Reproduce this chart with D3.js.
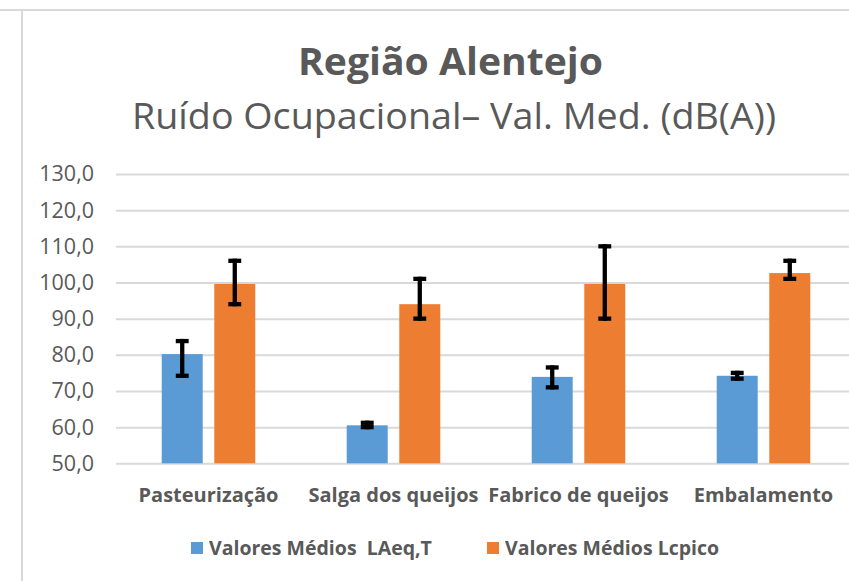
<!DOCTYPE html>
<html>
<head>
<meta charset="utf-8">
<script src="https://cdn.jsdelivr.net/npm/d3@7"></script>
<style>
  html, body { margin: 0; padding: 0; background: #fff; }
  svg { display: block; font-family: "Open Sans", "Noto Sans", sans-serif; }
</style>
</head>
<body>
<svg id="chart" width="849" height="581"></svg>
<script>
// data
const categories = ["Pasteurização", "Salga dos queijos", "Fabrico de queijos", "Embalamento"];
const seriesNames = ["Valores Médios  LAeq,T", "Valores Médios Lcpico"];
const seriesColors = ["#5b9bd5", "#ed7d31"];

const laeq = [80.2, 60.5, 73.9, 74.2];
const laeqLow = [74.2, 60.0, 71.0, 73.4];
const laeqHigh = [83.8, 61.2, 76.5, 75.0];

const lcpico = [99.6, 94.0, 99.6, 102.6];
const lcpicoLow = [94.0, 90.0, 90.0, 101.0];
const lcpicoHigh = [106.0, 101.0, 110.0, 106.0];

const yTicks = [50, 60, 70, 80, 90, 100, 110, 120, 130];

const values = [laeq, lcpico];
const lows = [laeqLow, lcpicoLow];
const highs = [laeqHigh, lcpicoHigh];

const svg = d3.select("#chart");
const width = +svg.attr("width");
const height = +svg.attr("height");

const plot = { left: 116, right: 856, top: 174, bottom: 463.3 };
const textColor = "#595959";
const gridColor = "#d9d9d9";

// fit a text element to the width it has in the reference
function fit(sel, w) {
  const n = sel.node().getComputedTextLength();
  if (Math.abs(n - w) > 1) {
    sel.attr("textLength", w).attr("lengthAdjust", "spacingAndGlyphs");
  }
}

// outer chart border (partly cropped in the original)
svg.append("line")
  .attr("x1", 0).attr("x2", width)
  .attr("y1", 10).attr("y2", 10)
  .attr("stroke", gridColor).attr("stroke-width", 2);
svg.append("line")
  .attr("x1", 22).attr("x2", 22)
  .attr("y1", 10).attr("y2", height)
  .attr("stroke", gridColor).attr("stroke-width", 2);

// titles
const title = svg.append("text")
  .attr("x", 450.5).attr("y", 75)
  .attr("text-anchor", "middle")
  .attr("font-weight", "bold")
  .attr("font-size", 37)
  .attr("fill", textColor)
  .text("Região Alentejo");
fit(title, 305);

const subtitle = svg.append("text")
  .attr("x", 454).attr("y", 129)
  .attr("text-anchor", "middle")
  .attr("font-size", 37)
  .attr("fill", textColor)
  .text("Ruído Ocupacional– Val. Med. (dB(A))");
fit(subtitle, 644);

// scales
const y = d3.scaleLinear()
  .domain([50, 130])
  .range([plot.bottom, plot.top]);

const x0 = d3.scaleBand()
  .domain(categories)
  .range([plot.left, plot.right])
  .padding(0);

const x1 = d3.scaleBand()
  .domain(seriesNames)
  .range([0, x0.bandwidth()])
  .paddingInner(0.22)
  .paddingOuter(0.87);

const ptFormat = d3.formatLocale({
  decimal: ",", thousands: ".", grouping: [3], currency: ["", "€"]
}).format(".1f");

// y axis with gridlines
const yAxis = svg.append("g")
  .attr("transform", `translate(${plot.left},0)`)
  .call(d3.axisLeft(y)
    .tickValues(yTicks)
    .tickSize(-(width - plot.left))
    .tickPadding(22)
    .tickFormat(ptFormat));
yAxis.select(".domain").remove();
yAxis.selectAll(".tick line")
  .attr("stroke", gridColor)
  .attr("stroke-width", 2);
yAxis.selectAll(".tick text")
  .attr("fill", textColor)
  .attr("font-size", 21.5)
  .attr("font-family", "'Open Sans', sans-serif");

// bars
const groups = svg.append("g")
  .selectAll("g")
  .data(categories)
  .join("g")
  .attr("transform", (d) => `translate(${x0(d)},0)`);

const barData = (c, i) => seriesNames.map((s, k) => ({
  series: s, k: k,
  value: values[k][i], low: lows[k][i], high: highs[k][i]
}));

groups.selectAll("rect")
  .data((c, i) => barData(c, i))
  .join("rect")
  .attr("x", (d) => x1(d.series))
  .attr("width", x1.bandwidth())
  .attr("y", (d) => y(d.value))
  .attr("height", (d) => y(50) - y(d.value))
  .attr("fill", (d) => seriesColors[d.k]);

// error bars
const err = groups.selectAll("g.err")
  .data((c, i) => barData(c, i))
  .join("g")
  .attr("class", "err")
  .attr("stroke", "#000")
  .attr("stroke-width", 4.3)
  .attr("stroke-linecap", "square");

const cx = (d) => x1(d.series) + x1.bandwidth() / 2;
err.append("line")
  .attr("x1", cx).attr("x2", cx)
  .attr("y1", (d) => y(d.high)).attr("y2", (d) => y(d.low));
err.append("line")
  .attr("x1", (d) => cx(d) - 4.3).attr("x2", (d) => cx(d) + 4.3)
  .attr("y1", (d) => y(d.high)).attr("y2", (d) => y(d.high));
err.append("line")
  .attr("x1", (d) => cx(d) - 4.3).attr("x2", (d) => cx(d) + 4.3)
  .attr("y1", (d) => y(d.low)).attr("y2", (d) => y(d.low));

// category labels
const xAxis = svg.append("g")
  .attr("transform", `translate(0,${plot.bottom})`)
  .call(d3.axisBottom(x0).tickSize(0).tickPadding(25));
xAxis.select(".domain").remove();
xAxis.selectAll(".tick text")
  .attr("fill", textColor)
  .attr("font-size", 20)
  .attr("font-weight", "bold")
  .attr("font-family", "'Open Sans', sans-serif");

// legend
const legend = svg.append("g").attr("transform", "translate(0,548)");
const legendX = [191, 487];
const item = legend.selectAll("g")
  .data(seriesNames)
  .join("g")
  .attr("transform", (d, i) => `translate(${legendX[i]},0)`);
item.append("rect")
  .attr("x", 0).attr("y", -6)
  .attr("width", 12).attr("height", 12)
  .attr("fill", (d, i) => seriesColors[i]);
item.append("text")
  .attr("x", 18).attr("y", 0)
  .attr("dy", "0.35em")
  .attr("fill", textColor)
  .attr("font-size", 19.5)
  .attr("font-weight", "bold")
  .style("white-space", "pre")
  .text((d) => d);
</script>
</body>
</html>
